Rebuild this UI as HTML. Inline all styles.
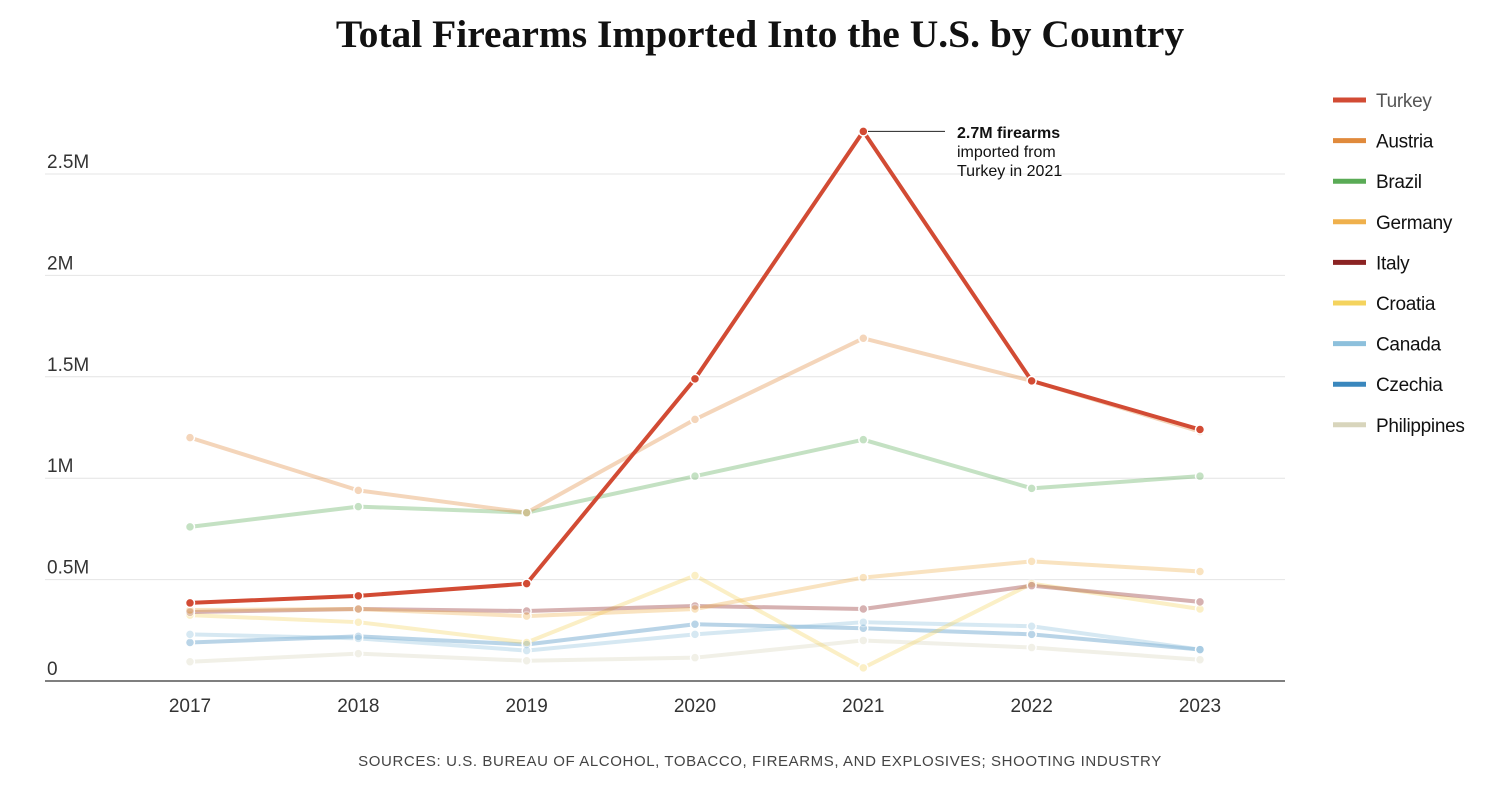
<!DOCTYPE html>
<html><head><meta charset="utf-8"><style>
body{margin:0;background:#fff;width:1500px;height:780px;overflow:hidden;font-family:"Liberation Sans",sans-serif}
</style></head><body>
<svg id="c" width="1500" height="780">
<text x="760" y="47" text-anchor="middle" font-family="Liberation Serif,serif" font-weight="bold" font-size="39.5" fill="#111">Total Firearms Imported Into the U.S. by Country</text>
<text x="760" y="766" text-anchor="middle" font-size="15" fill="#444" letter-spacing="0.6">SOURCES: U.S. BUREAU OF ALCOHOL, TOBACCO, FIREARMS, AND EXPLOSIVES; SHOOTING INDUSTRY</text>
</svg>
<script>
const years=[2017,2018,2019,2020,2021,2022,2023];
const yTicks=[0,0.5,1,1.5,2,2.5];
const yTickLabels=["0","0.5M","1M","1.5M","2M","2.5M"];
const countries=["Turkey","Austria","Brazil","Germany","Italy","Croatia","Canada","Czechia","Philippines"];
const colors=["#d24b34","#e08a3c","#5aab56","#efb04c","#8b2323","#f4d35e","#8dc0dc","#3a87bd","#d8d5bc"];
const turkey=[0.385,0.42,0.48,1.49,2.71,1.48,1.24];
const austria=[1.2,0.94,0.83,1.29,1.69,1.48,1.23];
const brazil=[0.76,0.86,0.83,1.01,1.19,0.95,1.01];
const germany=[0.35,0.355,0.32,0.355,0.51,0.59,0.54];
const italy=[0.34,0.355,0.345,0.37,0.355,0.47,0.39];
const croatia=[0.325,0.29,0.19,0.52,0.065,0.48,0.355];
const canada=[0.23,0.21,0.15,0.23,0.29,0.27,0.155];
const czechia=[0.19,0.22,0.18,0.28,0.26,0.23,0.155];
const philippines=[0.095,0.135,0.1,0.115,0.2,0.165,0.105];
const series=[turkey,austria,brazil,germany,italy,croatia,canada,czechia,philippines];
const NS="http://www.w3.org/2000/svg",svg=document.getElementById('c');
const x=i=>190+i*168.33, y=v=>681-v*202.8;
function mk(t,a,p){const e=document.createElementNS(NS,t);for(const k in a)e.setAttribute(k,a[k]);(p||svg).appendChild(e);return e;}
yTicks.forEach((t,i)=>{
 if(t>0){const g=mk('line',{x1:45,x2:1285,y1:y(t),y2:y(t),stroke:'#e4e4e4','stroke-width':1});
 
 }
 const l=mk('text',{x:47,y:y(t)-6,'font-size':19,fill:'#333'});l.textContent=yTickLabels[i];
 
 
});
const ax=mk('line',{x1:45,x2:1285,y1:681,y2:681,stroke:'#333','stroke-width':1.2});


years.forEach((yr,i)=>{const l=mk('text',{x:x(i),y:712,'text-anchor':'middle','font-size':19,fill:'#333'});l.textContent=yr;
 
 });
for(let s=series.length-1;s>=0;s--){
 const op=s===0?1:0.35;
 const g=mk('g',{opacity:op});
 
 
 mk('polyline',{points:series[s].map((v,i)=>x(i)+','+y(v)).join(' '),fill:'none',stroke:colors[s],'stroke-width':4,'stroke-linejoin':'round'},g);
 series[s].forEach((v,i)=>{const c=mk('circle',{cx:x(i),cy:y(v),r:4.5,fill:colors[s],stroke:'#fff','stroke-width':1.5},g);
  
  });
}
countries.forEach((c,i)=>{const yy=100+i*40.6;
 const g=mk('g',{});
 
 
 mk('line',{x1:1333,x2:1366,y1:yy,y2:yy,stroke:colors[i],'stroke-width':5},g);
 const t=mk('text',{x:1376,y:yy+7,'font-size':19,'letter-spacing':-0.3,fill:i===0?'#555':'#111'},g);t.textContent=c;});
const an=mk('g',{});


mk('line',{x1:868,x2:945,y1:y(turkey[4]),y2:y(turkey[4]),stroke:'#222','stroke-width':1},an);
[["2.7M firearms",'bold',138],["imported from",'normal',157],["Turkey in 2021",'normal',176]].forEach(a=>{
 const t=mk('text',{x:957,y:a[2],'font-size':16,'font-weight':a[1],fill:'#111'},an);t.textContent=a[0];});
</script>
</body></html>
